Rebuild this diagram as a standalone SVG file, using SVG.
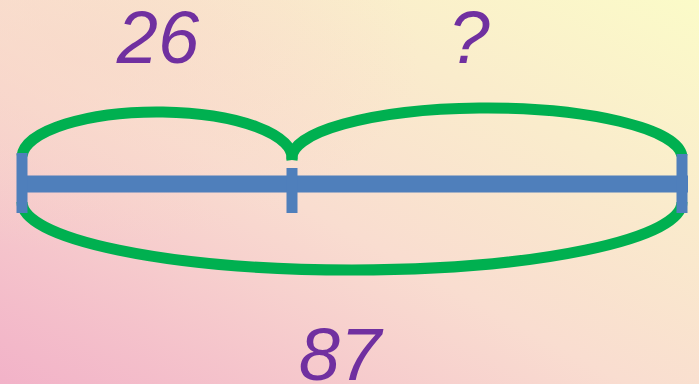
<svg xmlns="http://www.w3.org/2000/svg" width="699" height="384" viewBox="0 0 699 384">
<defs>
<linearGradient id="bg" x1="0" y1="1" x2="1" y2="0">
<stop offset="0" stop-color="#F2B2C8"/>
<stop offset="0.45" stop-color="#F9DDD0"/>
<stop offset="1" stop-color="#FBFBC8"/>
</linearGradient>
<radialGradient id="bg2" cx="0.1" cy="0.15" r="0.5">
<stop offset="0" stop-color="#F8D8C8" stop-opacity="0.6"/>
<stop offset="1" stop-color="#F8D8C8" stop-opacity="0"/>
</radialGradient>
<style>
.arc{fill:none;stroke:#00B050;stroke-width:11}
.bar{stroke:#4F7FBB;stroke-width:11;fill:none}
.lbl{font-family:"Liberation Sans",Arial,sans-serif;font-style:italic;font-size:74px;fill:#7030A0;text-anchor:middle}
</style>
</defs>
<rect width="699" height="384" fill="url(#bg)"/>
<rect width="699" height="384" fill="url(#bg2)"/>
<g id="connectors">
<path id="arc-left" class="arc" d="M22,156 A135,46 0 0 1 292,160"/>
<path id="arc-right" class="arc" d="M292,160 A195,50 0 0 1 682,156"/>
<path id="arc-bottom" class="arc" d="M22,202 A330,68 0 0 0 682,202"/>
</g>
<g id="bar">
<line class="bar" x1="17" y1="184" x2="688" y2="184" style="stroke-width:17"/>
<line class="bar" x1="22" y1="153" x2="22" y2="213"/>
<line class="bar" x1="292" y1="168" x2="292" y2="213"/>
<line class="bar" x1="682" y1="154" x2="682" y2="213"/>
</g>
<g id="label-26"><text class="lbl" x="158" y="63">26</text></g>
<g id="label-q"><text class="lbl" x="469" y="63">?</text></g>
<g id="label-87"><text class="lbl" x="340" y="380">87</text></g>
</svg>
